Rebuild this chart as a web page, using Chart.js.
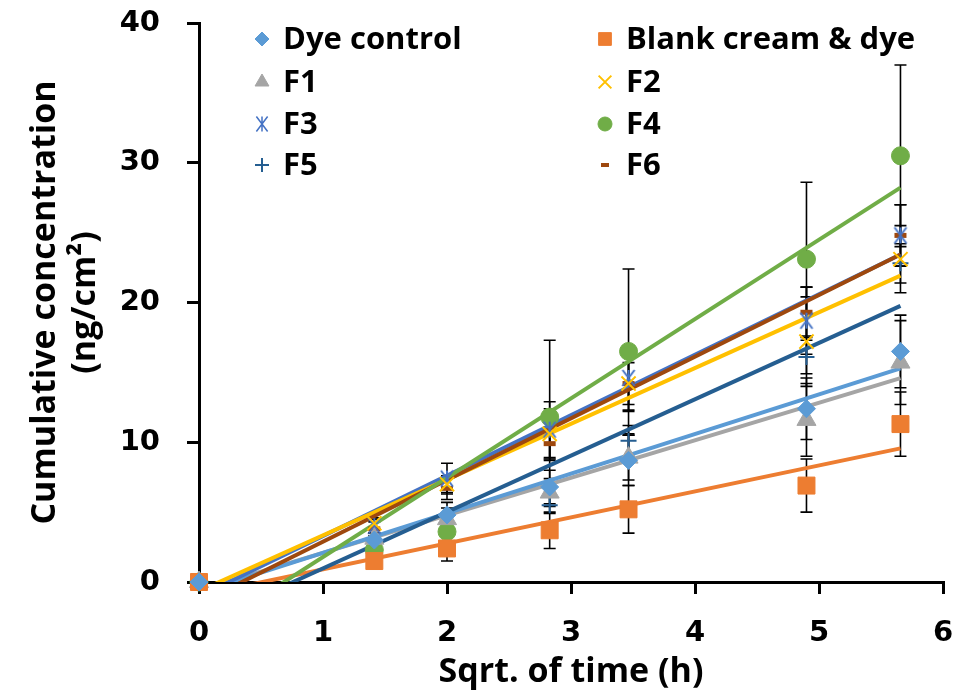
<!DOCTYPE html>
<html>
<head>
<meta charset="utf-8">
<script src="https://cdn.jsdelivr.net/npm/chart.js@4.4.1/dist/chart.umd.min.js"></script>
<style>
  html, body { margin: 0; padding: 0; background: #fff; }
</style>
</head>
<body>
<canvas id="chart" width="956" height="694"></canvas>
<script>
// sqrt of sampling time (0, 2, 4, 8, 12, 24, 32 h)
const sqrtTime = [0, 1.414, 2, 2.828, 3.464, 4.899, 5.657];

const seriesNames = ['Dye control', 'Blank cream & dye', 'F1', 'F2', 'F3', 'F4', 'F5', 'F6'];

// mean cumulative concentration (ng/cm2)
const dyeControl = [0, 3.0, 4.8, 6.8, 8.7, 12.4, 16.5];
const blankCream = [0, 1.5, 2.4, 3.7, 5.2, 6.9, 11.3];
const f1 = [0, 3.1, 4.5, 6.4, 8.9, 11.6, 15.7];
const f2 = [0, 4.2, 7.0, 10.6, 14.2, 17.2, 23.1];
const f3 = [0, 4.0, 7.4, 10.9, 14.6, 18.7, 24.8];
const f4 = [0, 2.3, 3.6, 11.8, 16.5, 23.1, 30.5];
const f5 = [0, 2.2, 3.6, 5.5, 10.1, 16.1, 22.8];
const f6 = [0, 3.8, 6.7, 9.9, 14.2, 19.3, 24.8];

// standard deviations (error bars)
const dyeControlErr = [0, 0.5, 0.9, 1.2, 1.8, 2.2, 2.6];
const blankCreamErr = [0, 0.4, 0.9, 1.3, 1.7, 1.9, 2.3];
const f1Err = [0, 0.4, 0.8, 1.0, 1.6, 2.6, 3.0];
const f2Err = [0, 0.4, 0.6, 1.8, 2.0, 3.2, 2.4];
const f3Err = [0, 0.5, 1.1, 2.0, 2.3, 2.4, 2.2];
const f4Err = [0, 0.5, 0.9, 5.5, 5.9, 5.5, 6.5];
const f5Err = [0, 0.4, 0.8, 0.6, 1.1, 1.2, 1.4];
const f6Err = [0, 0.5, 0.8, 1.2, 1.5, 1.8, 2.2];

const xTicks = [0, 1, 2, 3, 4, 5, 6];
const yTicks = [0, 10, 20, 30, 40];

const allMeans = [dyeControl, blankCream, f1, f2, f3, f4, f5, f6];
const allErrs = [dyeControlErr, blankCreamErr, f1Err, f2Err, f3Err, f4Err, f5Err, f6Err];

const colors = ['#5B9BD5', '#ED7D31', '#A5A5A5', '#FFC000', '#4472C4', '#70AD47', '#255E91', '#9E480E'];

// excel style "star" marker: an X with a vertical stroke
function asterisk(size, color, lw) {
    let c = document.createElement('canvas');
    c.width = size; c.height = size;
    let g = c.getContext('2d');
    let h = size / 2, r = h - lw;
    g.strokeStyle = color; g.lineWidth = lw;
    g.beginPath();
    g.moveTo(h - r * 0.75, h - r); g.lineTo(h + r * 0.75, h + r);
    g.moveTo(h + r * 0.75, h - r); g.lineTo(h - r * 0.75, h + r);
    g.moveTo(h, h - r); g.lineTo(h, h + r);
    g.stroke();
    return c;
}

const markers = [
    {style: 'rectRot', radius: 9, bw: 1},
    {style: 'rect', radius: 12, bw: 1},
    {style: 'triangle', radius: 11, bw: 1},
    {style: 'crossRot', radius: 10, bw: 2},
    {style: asterisk(20, colors[4], 2), radius: 10, bw: 2},
    {style: 'circle', radius: 9, bw: 1},
    {style: 'cross', radius: 8, bw: 2},
    {style: 'line', radius: 6, bw: 5}
];
const legendMarkers = [
    {style: 'rectRot', radius: 7, bw: 1},
    {style: 'rect', radius: 9, bw: 1},
    {style: 'triangle', radius: 8, bw: 1},
    {style: 'crossRot', radius: 9, bw: 2},
    {style: asterisk(18, colors[4], 1.5), radius: 9, bw: 2},
    {style: 'circle', radius: 7, bw: 1},
    {style: 'cross', radius: 7, bw: 2},
    {style: 'line', radius: 4, bw: 4}
];

function linFit(xs, ys) {
    let n = xs.length, mx = 0, my = 0;
    for (let i = 0; i < n; i++) { mx += xs[i]; my += ys[i]; }
    mx /= n; my /= n;
    let sxx = 0, sxy = 0;
    for (let i = 0; i < n; i++) {
        sxx += (xs[i] - mx) * (xs[i] - mx);
        sxy += (xs[i] - mx) * (ys[i] - my);
    }
    let slope = sxy / sxx;
    return {slope: slope, icpt: my - slope * mx};
}

function points(ys) {
    let arr = [];
    for (let i = 0; i < ys.length; i++) arr.push({x: sqrtTime[i], y: ys[i]});
    return arr;
}

let datasets = [];
for (let k = 0; k < seriesNames.length; k++) {
    datasets.push({
        label: seriesNames[k],
        data: points(allMeans[k]),
        backgroundColor: colors[k],
        borderColor: colors[k],
        pointStyle: markers[k].style,
        pointRadius: markers[k].radius,
        pointHoverRadius: markers[k].radius,
        pointBorderWidth: markers[k].bw,
        showLine: false,
        clip: false
    });
}
// linear trendlines
const lineOrder = [1, 2, 0, 6, 4, 3, 7, 5];
for (let k of lineOrder) {
    let fit = linFit(sqrtTime, allMeans[k]);
    let x0 = sqrtTime[0], x1 = sqrtTime[sqrtTime.length - 1];
    datasets.push({
        label: seriesNames[k] + ' trend',
        data: [{x: x0, y: fit.icpt + fit.slope * x0}, {x: x1, y: fit.icpt + fit.slope * x1}],
        borderColor: colors[k],
        borderWidth: 4,
        pointRadius: 0,
        showLine: true,
        order: 10 - lineOrder.indexOf(k)
    });
}

const errorBars = {
    id: 'errorBars',
    beforeDatasetsDraw(chart) {
        const ctx = chart.ctx, xs = chart.scales.x, ys = chart.scales.y;
        ctx.save();
        ctx.strokeStyle = '#000';
        ctx.lineWidth = 1.6;
        for (let k = 0; k < allMeans.length; k++) {
            for (let i = 0; i < sqrtTime.length; i++) {
                let e = allErrs[k][i];
                if (!e) continue;
                let px = xs.getPixelForValue(sqrtTime[i]);
                let top = ys.getPixelForValue(allMeans[k][i] + e);
                let bot = ys.getPixelForValue(allMeans[k][i] - e);
                ctx.beginPath();
                ctx.moveTo(px, top); ctx.lineTo(px, bot);
                ctx.moveTo(px - 6, top); ctx.lineTo(px + 6, top);
                ctx.moveTo(px - 6, bot); ctx.lineTo(px + 6, bot);
                ctx.stroke();
            }
        }
        ctx.restore();
    }
};

const legendGrid = {
    id: 'legendGrid',
    afterDraw(chart) {
        const ctx = chart.ctx;
        const colX = [262, 605];
        const rowY = [39, 82, 124, 165];
        ctx.save();
        ctx.font = 'bold 31px "Open Sans"';
        ctx.textBaseline = 'middle';
        ctx.textAlign = 'left';
        for (let k = 0; k < seriesNames.length; k++) {
            let cx = colX[k % 2], cy = rowY[Math.floor(k / 2)];
            let m = legendMarkers[k];
            ctx.fillStyle = colors[k];
            ctx.strokeStyle = colors[k];
            ctx.lineWidth = m.bw;
            Chart.helpers.drawPoint(ctx, {pointStyle: m.style, radius: m.radius, rotation: 0, borderWidth: m.bw}, cx, cy);
            ctx.fillStyle = '#000';
            ctx.fillText(seriesNames[k], cx + 21, cy + 1);
        }
        ctx.restore();
    }
};

const tickFont = {family: 'DejaVu Sans', size: 29, weight: 'bold'};
const titleFont = {family: 'Open Sans', size: 34, weight: 'bold', lineHeight: 40 / 34};

new Chart(document.getElementById('chart'), {
    type: 'scatter',
    data: {datasets: datasets},
    options: {
        responsive: false,
        animation: false,
        layout: {padding: {top: 23, right: 13, left: 0, bottom: 0}},
        plugins: {legend: {display: false}, tooltip: {enabled: false}},
        scales: {
            x: {
                type: 'linear',
                min: xTicks[0],
                max: xTicks[xTicks.length - 1],
                afterBuildTicks: s => { s.ticks = xTicks.map(v => ({value: v})); },
                afterFit: s => { s.height = 112; s.paddingLeft = 0; s.paddingRight = 0; },
                ticks: {font: tickFont, color: '#000', padding: 22},
                grid: {drawOnChartArea: false, color: '#000', lineWidth: 3, tickLength: 12},
                border: {color: '#000', width: 3},
                title: {display: true, text: 'Sqrt. of time (h)', font: titleFont, color: '#000', padding: {top: 0, bottom: 2}}
            },
            y: {
                min: yTicks[0],
                max: yTicks[yTicks.length - 1],
                afterBuildTicks: s => { s.ticks = yTicks.map(v => ({value: v})); },
                afterFit: s => { s.width = 199; s.paddingTop = 0; s.paddingBottom = 0; },
                ticks: {font: tickFont, color: '#000', padding: 27},
                grid: {drawOnChartArea: false, color: '#000', lineWidth: 3, tickLength: 12},
                border: {color: '#000', width: 3},
                title: {display: true, text: ['Cumulative concentration', '(ng/cm\u00B2)'], font: titleFont, color: '#000', padding: {top: 25, bottom: 0}}
            }
        }
    },
    plugins: [errorBars, legendGrid]
});
</script>
</body>
</html>
